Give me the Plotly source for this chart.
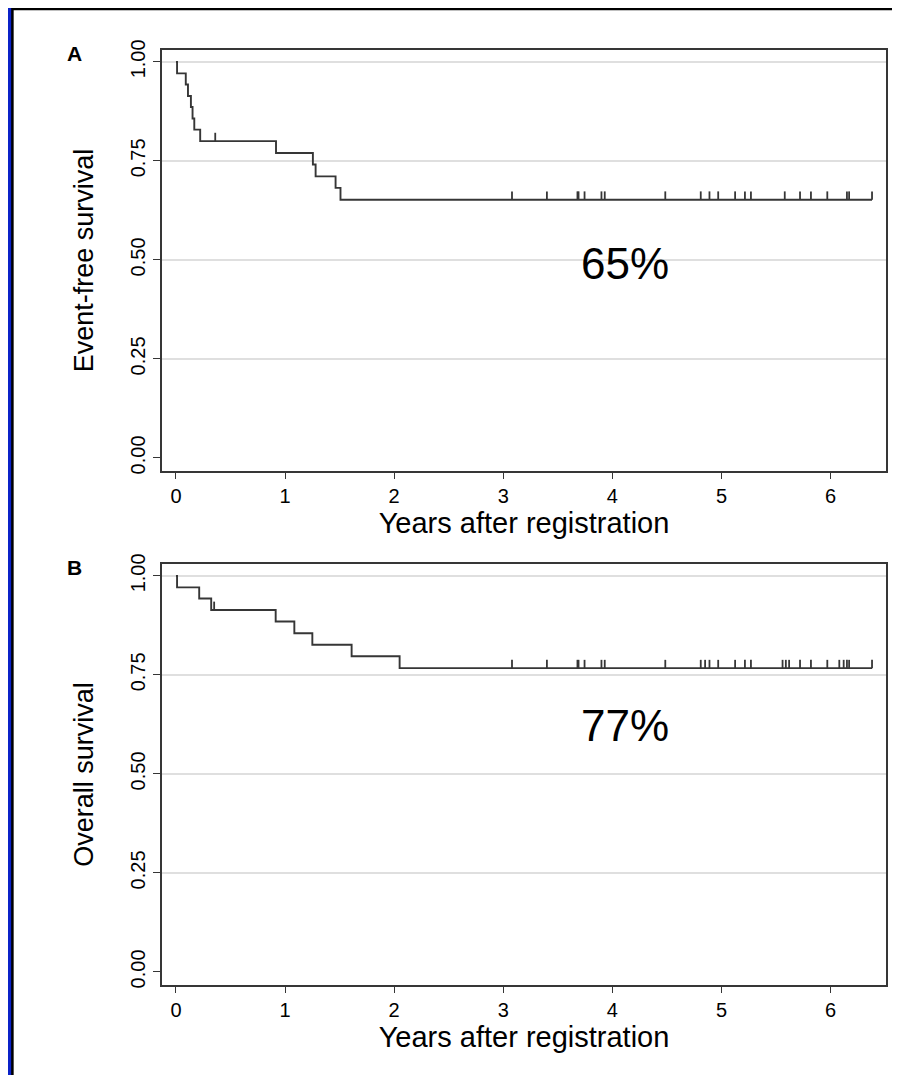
import numpy as np
import plotly.graph_objects as go

# ---------------- data ----------------
efs_event_times = [0.01, 0.09, 0.11, 0.137, 0.152, 0.168, 0.222, 0.917, 1.255, 1.28, 1.463, 1.508]
efs_event_surv = [0.971, 0.943, 0.914, 0.886, 0.857, 0.829, 0.800, 0.770, 0.741, 0.711, 0.682, 0.652]
efs_censor_times = [0.36, 3.08, 3.40, 3.68, 3.69, 3.745, 3.90, 3.93, 4.485, 4.81, 4.89, 4.97,
                    5.125, 5.215, 5.27, 5.58, 5.72, 5.82, 5.97, 6.15, 6.17, 6.38]
efs_end = 6.38
efs_label = "65%"

os_event_times = [0.01, 0.213, 0.323, 0.914, 1.085, 1.25, 1.61, 2.05]
os_event_surv = [0.971, 0.943, 0.914, 0.885, 0.855, 0.826, 0.797, 0.767]
os_censor_times = [0.35, 3.08, 3.40, 3.68, 3.69, 3.745, 3.90, 3.93, 4.485, 4.81, 4.85, 4.89, 4.97,
                   5.125, 5.215, 5.27, 5.56, 5.59, 5.62, 5.72, 5.82, 5.97, 6.08, 6.12, 6.15, 6.17, 6.38]
os_end = 6.38
os_label = "77%"

y_ticks = [0, 0.25, 0.5, 0.75, 1.0]
grid_levels = [0.25, 0.5, 0.75, 1.0]
x_ticks = [0, 1, 2, 3, 4, 5, 6]
y_titles = ["Event-free survival", "Overall survival"]
x_title = "Years after registration"
panel_letters = ["A", "B"]

# ---------------- figure geometry ----------------
# the page body has an 8px margin, so the figure is shifted by OFF px
OFF = 8
W, H = 900 - OFF, 1075 - OFF
ML, MR, MT, MB = 162 - OFF, 12, 50 - OFF, 1075 - 985
PW, PH = W - ML - MR, H - MT - MB


def pxx(px):  # page px -> paper x
    return (px - OFF - ML) / PW


def pxy(py):  # page px -> paper y
    return (H - MB - (py - OFF)) / PH


FONT = "Liberation Sans, Arial, Helvetica, sans-serif"
LINE = "#363636"

fig = go.Figure()

# background: blue frame with white panel (drawn first so grid shapes sit above it)
fig.add_shape(type="rect", xref="paper", yref="paper", x0=pxx(12), x1=pxx(960), y0=pxy(OFF + 1), y1=pxy(1130),
              fillcolor="white", line=dict(color="black", width=2.5), layer="below")


def surv_at(times, surv, t):
    idx = np.searchsorted(np.array(times), t, side="right") - 1
    return 1.0 if idx < 0 else surv[idx]


panels = [
    (efs_event_times, efs_event_surv, efs_censor_times, efs_end, efs_label, "x", "y", 0.49),
    (os_event_times, os_event_surv, os_censor_times, os_end, os_label, "x2", "y2", 0.621),
]

for times, surv, ctimes, tend, label, xa, ya, ly in panels:
    for g in grid_levels:
        fig.add_shape(type="line", xref=f"{xa} domain", yref=ya, x0=0, x1=1, y0=g, y1=g,
                      line=dict(color="#d4d4d4", width=1.5), layer="below")
    xs = [0] + list(times) + [tend]
    ys = [1.0] + list(surv) + [surv[-1]]
    fig.add_trace(go.Scatter(x=xs, y=ys, mode="lines", line=dict(color=LINE, width=1.9, shape="hv"),
                             xaxis=xa, yaxis=ya, showlegend=False, hoverinfo="skip"))
    cy = [surv_at(times, surv, t) for t in ctimes]
    fig.add_trace(go.Scatter(x=ctimes, y=cy, mode="markers", marker=dict(size=1, color="rgba(0,0,0,0)"),
                             error_y=dict(type="data", symmetric=False, array=[0.021] * len(ctimes),
                                          arrayminus=[0] * len(ctimes), width=0, thickness=1.8, color=LINE),
                             xaxis=xa, yaxis=ya, showlegend=False, hoverinfo="skip"))
    fig.add_annotation(x=4.12, y=ly, xref=xa, yref=ya, text=label,
                       showarrow=False, font=dict(family=FONT, size=44, color="black"))

# panel letters
fig.add_annotation(x=pxx(74), y=pxy(54), xref="paper", yref="paper", text="<b>%s</b>" % panel_letters[0],
                   xanchor="center", yanchor="middle",
                   showarrow=False, font=dict(family=FONT, size=21, color="black"))
fig.add_annotation(x=pxx(74), y=pxy(567), xref="paper", yref="paper", text="<b>%s</b>" % panel_letters[1],
                   xanchor="center", yanchor="middle",
                   showarrow=False, font=dict(family=FONT, size=21, color="black"))

xaxis_common = dict(range=[-0.128, 6.508], tickvals=x_ticks, ticks="outside", ticklen=6, tickwidth=1.3,
                    tickcolor=LINE, showline=True, linecolor=LINE, linewidth=1.5, mirror=True,
                    showgrid=False, zeroline=False, tickfont=dict(family=FONT, size=20, color="black"),
                    title=dict(text=x_title, font=dict(family=FONT, size=29, color="black"), standoff=6))
yaxis_common = dict(range=[-0.033, 1.030], tickvals=y_ticks, tickformat=".2f", ticks="outside", ticklen=7,
                    tickwidth=1.3, tickcolor=LINE, showline=True, linecolor=LINE, linewidth=1.5, mirror=True,
                    showgrid=False, zeroline=False, tickangle=-90,
                    tickfont=dict(family=FONT, size=20, color="black"))

fig.update_layout(
    width=W, height=H,
    margin=dict(l=ML, r=MR, t=MT, b=MB),
    paper_bgcolor="#0b22c8", plot_bgcolor="white",
    showlegend=False,
    xaxis=dict(domain=[0, 1], anchor="y", **xaxis_common),
    yaxis=dict(domain=[pxy(471), pxy(50)], anchor="x",
               title=dict(text=y_titles[0], font=dict(family=FONT, size=27, color="black"), standoff=26),
               **yaxis_common),
    xaxis2=dict(domain=[0, 1], anchor="y2", **xaxis_common),
    yaxis2=dict(domain=[pxy(985), pxy(564)], anchor="x2",
                title=dict(text=y_titles[1], font=dict(family=FONT, size=27, color="black"), standoff=26),
                **yaxis_common),
)

fig.write_html("out.html")
